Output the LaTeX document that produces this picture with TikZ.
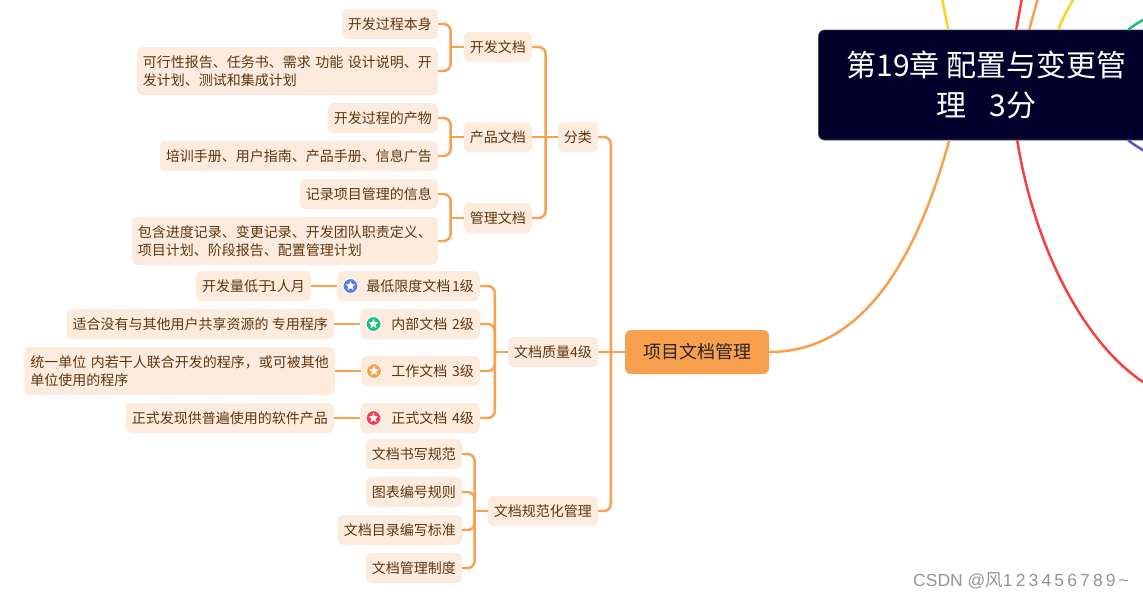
\documentclass[tikz,border=0pt]{standalone}
\usepackage{fontspec}
\setmainfont{Noto Sans CJK SC}
\newfontfamily\wmfont{Liberation Sans}
\newfontfamily\wmdigits[LetterSpace=18]{Liberation Sans}
\usepackage{xcolor}
\usepackage{tikz}
\usetikzlibrary{positioning,shapes.geometric}
\definecolor{brOrange}{HTML}{F9A04E}
\definecolor{brFill}{HTML}{FDECDD}
\definecolor{brText}{HTML}{5E3512}
\definecolor{navy}{HTML}{00002A}
\definecolor{lnYellow}{HTML}{F5D327}
\definecolor{lnRed}{HTML}{F5413F}
\definecolor{lnGreen}{HTML}{1DBE7C}
\definecolor{lnBlue}{HTML}{5B52C4}
\definecolor{icBlue}{HTML}{5B7BF5}
\definecolor{icGreen}{HTML}{1FBF7F}
\definecolor{icRed}{HTML}{F5414E}

\begin{document}
\begin{tikzpicture}[x=1pt, y=-1pt, font=\fontsize{14}{18}\selectfont,
  leaf/.style={fill=brFill, text=brText, rounded corners=5pt, anchor=east, align=left, inner xsep=6pt, inner ysep=0pt, minimum height=30pt},
  root/.style={fill=brOrange, text=black!85, rounded corners=6pt, minimum width=144pt, minimum height=44pt, inner sep=0pt, font=\fontsize{18}{22}\selectfont},
  arr/.style={draw=brOrange, line width=2.4pt, rounded corners=7pt},
  flat/.style={draw=brOrange, line width=2.4pt},
  curve/.style={line width=2.5pt},
  badge/.style={circle, draw=white, line width=1pt, minimum size=15pt, inner sep=0pt},
  starin/.style={star, star points=5, star point ratio=2.2, fill=white, minimum size=10pt, inner sep=0pt}]
\useasboundingbox (0,0) rectangle (1143,600);
\clip (0,0) rectangle (1143,600);
% lines round the chapter box
\coordinate (c1) at (942,-2);
\coordinate (c2) at (1022,-2);
\coordinate (c3) at (1038,-2);
\coordinate (c4) at (1074,-2);
\coordinate (c5) at (1146,18);
\coordinate (c6) at (1146,152);
\coordinate (c7) at (1146,384);
\node[fill=navy, draw=navy!70!white, line width=.6pt, rounded corners=6pt, text=white, minimum width=336pt, minimum height=110pt, inner sep=0pt, align=center, font=\fontsize{30}{40}\selectfont] (chap) at (986.5,85) {第19章 配置与变更管\\理\hspace{0.75em}3分};
\draw[curve, color=lnYellow] ([xshift=130pt]chap.north west) -- (c1);
\draw[curve, color=lnRed] ([xshift=198pt]chap.north west) -- (c2);
\draw[curve, color=brOrange] ([xshift=211pt]chap.north west) -- (c3);
\draw[curve, color=lnYellow] ([xshift=240pt]chap.north west) .. controls (1063,18) .. (c4);
\draw[curve, color=lnGreen] ([xshift=310pt]chap.north west) .. controls (1133,26) .. (c5);
\draw[curve, color=lnBlue] ([xshift=310pt]chap.south west) .. controls (1133,144) .. (c6);
\draw[curve, color=lnRed] ([xshift=199pt]chap.south west) .. controls (1035,250) and (1085,345) .. (c7);

\node[root] (proj) at (697,352) {项目文档管理};
\draw[curve, color=brOrange] (proj.east) .. controls (860,352) and (915,265) .. ([xshift=131pt]chap.south west);

% upper branch
\node[leaf] (kind) at (598,137) {分类};
\node[leaf] (dev) at (532,47) {开发文档};
\node[leaf] (prod) at (532,137) {产品文档};
\node[leaf] (mgmt) at (532,218) {管理文档};
\node[leaf] (dev1) at (438,24) {开发过程本身};
\node[leaf, minimum height=48pt] (dev2) at (438,71) {可行性报告、任务书、需求\hspace{4.5pt}功能\hspace{4.5pt}设计说明、开\\发计划、测试和集成计划};
\node[leaf] (prod1) at (438,118) {开发过程的产物};
\node[leaf] (prod2) at (438,156) {培训手册、用户指南、产品手册、信息广告};
\node[leaf] (mgmt1) at (438,194) {记录项目管理的信息};
\node[leaf, minimum height=48pt] (mgmt2) at (438,241) {包含进度记录、变更记录、开发团队职责定义、\\项目计划、阶段报告、配置管理计划};
\draw[flat] (proj.west) -- ++(-14,0);
\draw[arr] (proj.west) ++(-14,0) |- (kind.east);
\draw[flat] (kind.west) -- (prod.east);
\draw[arr] (kind.west) ++(-12,0) |- (dev.east);
\draw[arr] (kind.west) ++(-12,0) |- (mgmt.east);
\draw[flat] (dev.west) -- ++(-13,0);
\draw[arr] (dev.west) ++(-13,0) |- (dev1.east);
\draw[arr] (dev.west) ++(-13,0) |- (dev2.east);
\draw[flat] (prod.west) -- ++(-13,0);
\draw[arr] (prod.west) ++(-13,0) |- (prod1.east);
\draw[arr] (prod.west) ++(-13,0) |- (prod2.east);
\draw[flat] (mgmt.west) -- ++(-13,0);
\draw[arr] (mgmt.west) ++(-13,0) |- (mgmt1.east);
\draw[arr] (mgmt.west) ++(-13,0) |- (mgmt2.east);

% quality branch
\node[leaf] (qual) at (598,352) {文档质量4级};
\node[leaf, text width=130.5pt, align=right] (q1) at (480,286) {最低限度文档\kern-3pt\ 1级};
\node[leaf, text width=107.5pt, align=right] (q2) at (480,324) {内部文档 2级};
\node[leaf, text width=106.5pt, align=right] (q3) at (480,371) {工作文档 3级};
\node[leaf, text width=107.5pt, align=right] (q4) at (480,418) {正式文档 4级};
\node[leaf] (n1) at (311,286) {开发量低于\kern-3pt 1人月};
\node[leaf] (n2) at (334,324) {适合没有与其他用户共享资源的 专用程序};
\node[leaf, minimum height=48pt] (n3) at (335,371) {统一单位\hspace{4.5pt}内若干人联合开发的程序，或可被其他\\单位使用的程序};
\node[leaf] (n4) at (334,418) {正式发现供普遍使用的软件产品};
\node[badge, fill=icBlue] (m1) at (350.5,286) {};
\node[starin] (s1) at (m1) {};
\node[badge, fill=icGreen] (m2) at (373.5,324) {};
\node[starin] (s2) at (m2) {};
\node[badge, fill=brOrange] (m3) at (374,371) {};
\node[starin] (s3) at (m3) {};
\node[badge, fill=icRed] (m4) at (373.5,418) {};
\node[starin] (s4) at (m4) {};
\draw[flat] (proj.west) -- (qual.east);
\draw[flat] (qual.west) -- ++(-13,0);
\draw[arr] (qual.west) ++(-13,0) |- (q1.east);
\draw[arr] (qual.west) ++(-13,0) |- (q2.east);
\draw[arr] (qual.west) ++(-13,0) |- (q3.east);
\draw[arr] (qual.west) ++(-13,0) |- (q4.east);
\draw[flat] (n1.east) -- (q1.west);
\draw[flat] (n2.east) -- (q2.west);
\draw[flat] (n3.east) -- (q3.west);
\draw[flat] (n4.east) -- (q4.west);

% norm branch
\node[leaf] (norm) at (598,511) {文档规范化管理};
\node[leaf] (w1) at (462,454) {文档书写规范};
\node[leaf] (w2) at (462,492) {图表编号规则};
\node[leaf] (w3) at (462,530) {文档目录编写标准};
\node[leaf] (w4) at (462,568) {文档管理制度};
\draw[arr] (proj.west) ++(-14,0) |- (norm.east);
\draw[flat] (norm.west) -- ++(-13,0);
\draw[arr] (norm.west) ++(-13,0) |- (w1.east);
\draw[arr] (norm.west) ++(-13,0) |- (w2.east);
\draw[arr] (norm.west) ++(-13,0) |- (w3.east);
\draw[arr] (norm.west) ++(-13,0) |- (w4.east);

\node[text=black!42, font=\fontsize{17.5}{20}\selectfont, inner sep=0pt, anchor=west] (wm) at (913,581) {{\wmfont CSDN @}风{\wmdigits 123456789}\kern3pt{\wmfont\textasciitilde}};
\end{tikzpicture}
\end{document}
